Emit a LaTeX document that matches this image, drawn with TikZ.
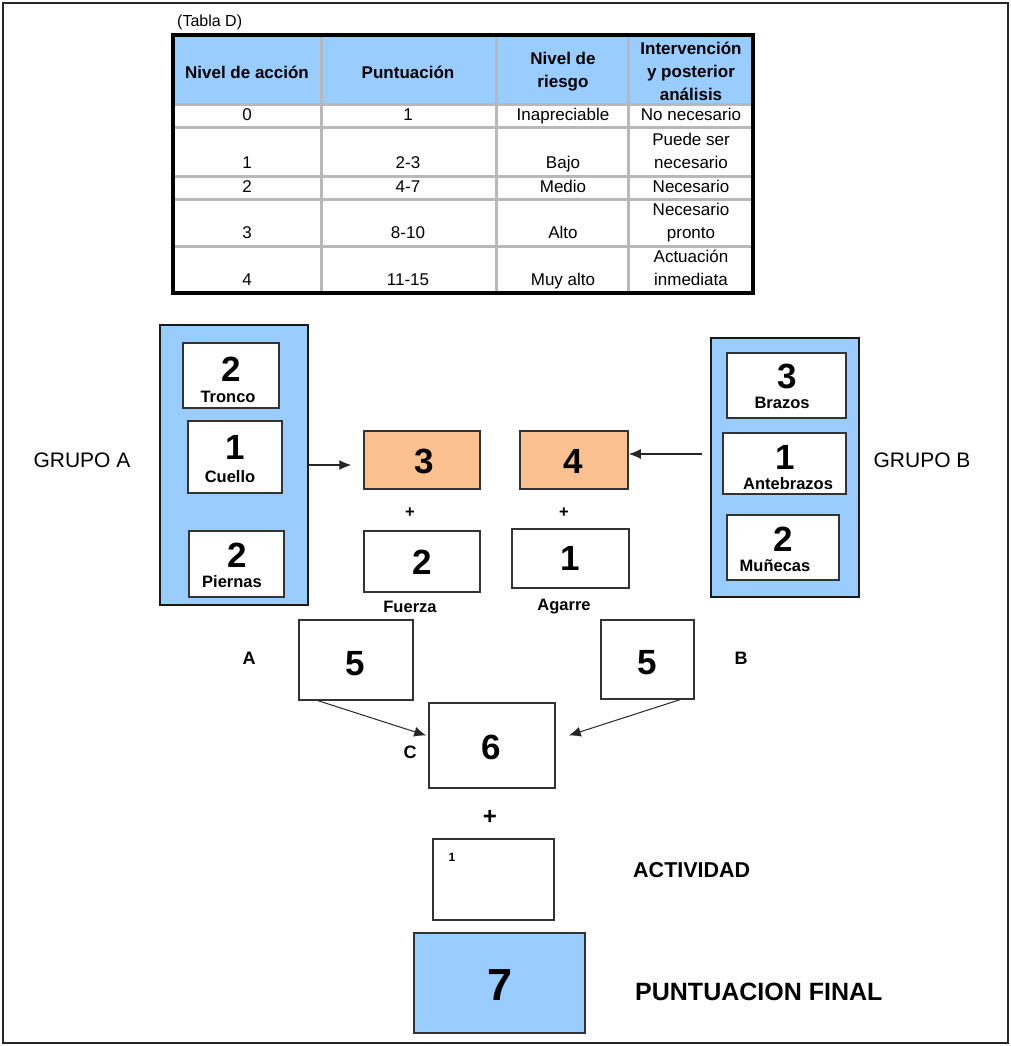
\documentclass[tikz,border=0pt]{standalone}
\usepackage{fontspec}
\setmainfont{Liberation Sans}
\usetikzlibrary{arrows.meta,calc}
\definecolor{blueF}{HTML}{99CCFF}
\definecolor{orangeF}{HTML}{FAC090}
\definecolor{gridG}{gray}{0.72}
\tikzset{
  grp/.style={draw=black!90, line width=2pt, fill=blueF, inner sep=0pt},
  sbox/.style={draw=black!80, line width=1.5pt, fill=white, inner sep=0pt},
  obox/.style={sbox, fill=orangeF},
  fbox/.style={sbox, fill=blueF},
  num/.style={inner sep=0pt, font=\bfseries\fontsize{35}{35}\selectfont},
  bignum/.style={inner sep=0pt, font=\bfseries\fontsize{45}{45}\selectfont},
  lbl/.style={inner sep=0pt, font=\bfseries\fontsize{16.5}{16.5}\selectfont},
  txt/.style={inner sep=0pt, font=\fontsize{21}{21}\selectfont},
  btxt/.style={inner sep=0pt, font=\bfseries\fontsize{21.5}{21.5}\selectfont},
  hd/.style={inner sep=0pt, align=center, font=\bfseries\fontsize{17}{23}\selectfont},
  cell/.style={inner sep=0pt, anchor=base, font=\fontsize{17}{17}\selectfont},
  arr/.style={line width=1.2pt, draw=black!85, -{Latex[length=12pt,width=10pt]}},
}
\begin{document}
\begin{tikzpicture}[x=1pt,y=-1pt]
\useasboundingbox (0,0) rectangle (1011,1046);
% outer frame
\draw[line width=2.5pt, black!85] (3,3) rectangle (1008,1043);

% ---------- table ----------
\node[anchor=west, inner sep=0pt, font=\fontsize{16}{16}\selectfont] (tabla) at (177,22) {(Tabla D)};
\fill[blueF] (173,35) rectangle (753,104);
\foreach \yy in {105,128,176,199,246}{
  \draw[gridG, line width=3pt] (173,\yy) -- (753,\yy);
}
\foreach \xx in {321,496,628}{
  \draw[gridG, line width=3pt] (\xx,35) -- (\xx,293);
}
\draw[line width=4pt, black] (173,35) rectangle (753,293);

\node[hd] (h1) at (247,72) {Nivel de acción};
\node[hd] (h2) at (408,72) {Puntuación};
\node[hd] (h3) at (563,72) {Nivel de\\riesgo};
\node[hd] (h4) at (691,71) {Intervención\\y posterior\\análisis};

\node[cell] (r0a) at (247,121) {0};
\node[cell] (r0b) at (408,121) {1};
\node[cell] (r0c) at (563,121) {Inapreciable};
\node[cell] (r0d) at (691,121) {No necesario};

\node[cell] (r1a) at (247,168) {1};
\node[cell] (r1b) at (408,168) {2-3};
\node[cell] (r1c) at (563,168) {Bajo};
\node[cell] (r1d) at (691,145) {Puede ser};
\node[cell] (r1e) at (691,168) {necesario};

\node[cell] (r2a) at (247,192) {2};
\node[cell] (r2b) at (408,192) {4-7};
\node[cell] (r2c) at (563,192) {Medio};
\node[cell] (r2d) at (691,192) {Necesario};

\node[cell] (r3a) at (247,238) {3};
\node[cell] (r3b) at (408,238) {8-10};
\node[cell] (r3c) at (563,238) {Alto};
\node[cell] (r3d) at (691,215) {Necesario};
\node[cell] (r3e) at (691,238) {pronto};

\node[cell] (r4a) at (247,285) {4};
\node[cell] (r4b) at (408,285) {11-15};
\node[cell] (r4c) at (563,285) {Muy alto};
\node[cell] (r4d) at (691,262) {Actuación};
\node[cell] (r4e) at (691,285) {inmediata};

% ---------- group A ----------
\node[grp, minimum width=148, minimum height=280] (gA) at (234,465) {};
\node[sbox, minimum width=96, minimum height=65] (tronco) at (231,375.5) {};
\node[num] (troncoN) at (231,369) {2};
\node[lbl] (troncoL) at (228,397) {Tronco};
\node[sbox, minimum width=94, minimum height=72] (cuello) at (235,457) {};
\node[num] (cuelloN) at (235,447) {1};
\node[lbl] (cuelloL) at (230,477) {Cuello};
\node[sbox, minimum width=95, minimum height=66] (piernas) at (236.5,564) {};
\node[num] (piernasN) at (237,555) {2};
\node[lbl] (piernasL) at (232,582) {Piernas};
\node[txt, anchor=center] (grpA) at (82,460) {GRUPO A};

% ---------- group B ----------
\node[grp, minimum width=148, minimum height=259] (gB) at (785,467.5) {};
\node[sbox, minimum width=119, minimum height=65] (brazos) at (786.5,385.5) {};
\node[num] (brazosN) at (787,376) {3};
\node[lbl] (brazosL) at (782,403) {Brazos};
\node[sbox, minimum width=123, minimum height=61] (ante) at (784.5,463.5) {};
\node[num] (anteN) at (785,457) {1};
\node[lbl] (anteL) at (788,484) {Antebrazos};
\node[sbox, minimum width=112, minimum height=65] (munecas) at (783,547.5) {};
\node[num] (munecasN) at (783,539) {2};
\node[lbl] (munecasL) at (775,566) {Muñecas};
\node[txt] (grpB) at (922,460) {GRUPO B};

% ---------- middle ----------
\node[obox, minimum width=116, minimum height=58] (o3) at (422,460) {};
\node[num] (o3N) at (424,461) {3};
\node[lbl] (plus1) at (410,513) {+};
\node[sbox, minimum width=116, minimum height=61] (fz) at (422,561.5) {};
\node[num] (fzN) at (422,562) {2};
\node[lbl] (fzL) at (410,607) {Fuerza};

\node[obox, minimum width=108, minimum height=58] (o4) at (574,460) {};
\node[num] (o4N) at (573,461) {4};
\node[lbl] (plus2) at (564,513) {+};
\node[sbox, minimum width=117, minimum height=59] (ag) at (570.5,558.5) {};
\node[num] (agN) at (570,558) {1};
\node[lbl] (agL) at (564,607) {Agarre};

\draw[arr] (gA.east) -- ([xshift=-12pt]o3.west |- gA.east);
\draw[arr] ([xshift=-8pt,yshift=6pt]gB.west |- o4.east) -- ([yshift=6pt]o4.east);

% ---------- A, B, C ----------
\node[sbox, minimum width=114, minimum height=80] (a5) at (356,660) {};
\node[num] (a5N) at (355,664) {5};
\node[lbl, font=\bfseries\fontsize{18}{18}\selectfont] (labA) at (249,658) {A};
\node[sbox, minimum width=93, minimum height=79] (b5) at (647.5,659.5) {};
\node[num] (b5N) at (647,663) {5};
\node[lbl, font=\bfseries\fontsize{18}{18}\selectfont] (labB) at (741,658) {B};
\node[sbox, minimum width=126, minimum height=85] (c6) at (492,745.5) {};
\node[num] (c6N) at (491,747) {6};
\node[lbl, font=\bfseries\fontsize{18}{18}\selectfont] (labC) at (410,752) {C};

\draw[arr, line width=1pt] ([xshift=20pt]a5.south west) -- ([xshift=-2pt,yshift=10pt]c6.west);
\draw[arr, line width=1pt] ([xshift=-15pt]b5.south east) -- ([xshift=13pt,yshift=10pt]c6.east);

\node[lbl, font=\bfseries\fontsize{24}{24}\selectfont] (plus3) at (490,817) {+};

% ---------- actividad / final ----------
\node[sbox, minimum width=121, minimum height=81] (act) at (493.5,879.5) {};
\node[lbl, font=\bfseries\fontsize{12}{12}\selectfont] (actN) at (452,857) {1};
\node[btxt, anchor=west] (actL) at (633,870) {ACTIVIDAD};
\node[fbox, minimum width=171, minimum height=100] (fin) at (499.5,983) {};
\node[bignum] (finN) at (500,985) {7};
\node[inner sep=0pt, anchor=west, font=\bfseries\fontsize{25}{25}\selectfont] (finL) at (635,992) {PUNTUACION FINAL};
\end{tikzpicture}
\end{document}
